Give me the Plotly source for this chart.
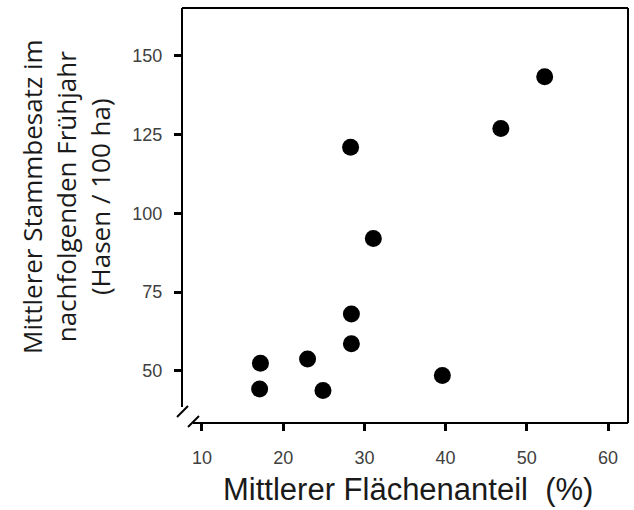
import plotly.graph_objects as go

# Data
flaechenanteil = [17.1, 17.2, 23.0, 24.9, 28.4, 28.4, 39.6, 28.3, 46.8, 52.2, 31.1]
stammbesatz = [44.2, 52.4, 53.7, 43.7, 58.6, 68.0, 48.5, 121.0, 126.9, 143.4, 92.0]

x_ticks = [10, 20, 30, 40, 50, 60]
y_ticks = [50, 75, 100, 125, 150]

W, H = 634, 510
L, R, T, B = 182, 628, 8, 423  # plot area in pixels


def px(X):
    return (X - L) / (R - L)


def py(Y):
    return (B - Y) / (B - T)


def seg(x0, y0, x1, y1, w=2):
    return dict(type="line", xref="paper", yref="paper",
                x0=px(x0), y0=py(y0), x1=px(x1), y1=py(y1),
                line=dict(color="black", width=w), layer="above")


fig = go.Figure()
fig.add_trace(go.Scatter(
    x=flaechenanteil, y=stammbesatz, mode="markers",
    marker=dict(size=17, color="black"),
    showlegend=False, cliponaxis=False,
))

tickfont = dict(family="Liberation Sans, Arial", size=18, color="#404040")

fig.update_layout(
    width=W, height=H,
    margin=dict(l=L, r=W - R, t=T, b=H - B),
    plot_bgcolor="white", paper_bgcolor="white",
    xaxis=dict(range=[7.54, 62.46], tickvals=x_ticks, showgrid=False, zeroline=False,
               showline=False, ticks="outside", ticklen=7, tickwidth=2.5,
               tickcolor="black", tickfont=tickfont, ticklabelstandoff=11),
    yaxis=dict(range=[33.4, 165.2], tickvals=y_ticks, showgrid=False, zeroline=False,
               showline=False, ticks="outside", ticklen=7, tickwidth=2.5,
               tickcolor="black", tickfont=tickfont, ticklabelstandoff=8),
    shapes=[
        seg(L, T, R, T),          # top border
        seg(R, T, R, B),          # right border
        seg(L, T, L, 407),        # left axis
        seg(193, B, R, B),        # bottom axis
        seg(177, 417, 188, 406),  # break mark 1
        seg(188, 427, 199, 416),  # break mark 2
    ],
    annotations=[
        dict(text="Mittlerer Flächenanteil  (%)", xref="paper", yref="paper",
             x=px(408), y=py(490), xanchor="center", yanchor="middle",
             showarrow=False,
             font=dict(family="Liberation Sans, Arial", size=31, color="#1a1a1a")),
        dict(text="Mittlerer Stammbesatz im<br>nachfolgenden Frühjahr<br>(Hasen / 100 ha)",
             xref="paper", yref="paper", x=px(66), y=py(197),
             xanchor="center", yanchor="middle", textangle=-90, showarrow=False,
             font=dict(family="Open Sans, Noto Sans", size=26, color="#1a1a1a")),
    ],
)

fig.write_html("out.html", config={"displayModeBar": False},
               post_script="document.body.style.margin='0';")
